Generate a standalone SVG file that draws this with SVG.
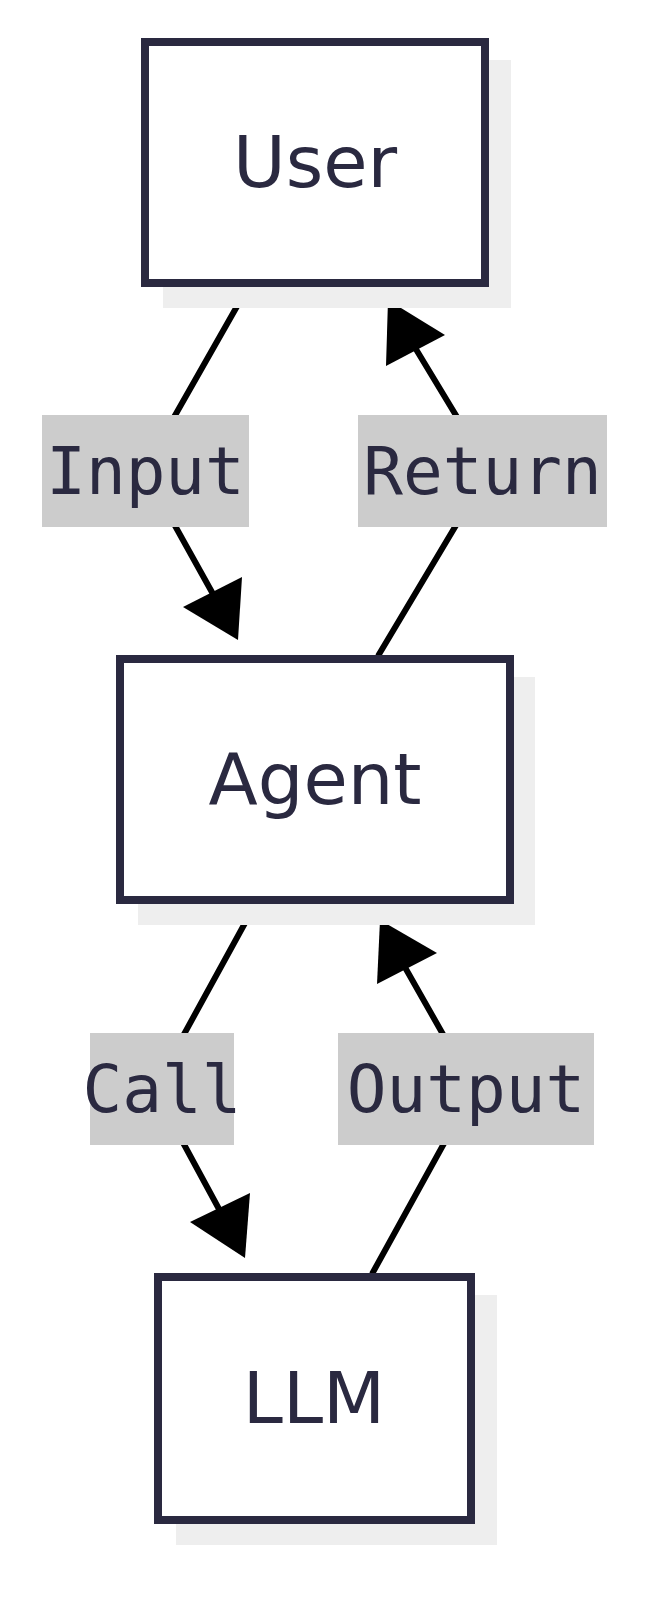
<svg xmlns="http://www.w3.org/2000/svg" width="665" height="1600" viewBox="0 0 665 1600">
<defs>
<style>
.sh{fill:#eeeeee}
.nd{fill:#ffffff;stroke:#2a2940;stroke-width:8}
.nt{font-family:"DejaVu Sans",sans-serif;font-size:72px;fill:#2a2940;text-anchor:middle;dominant-baseline:central}
.cn{fill:none;stroke:#000;stroke-width:6}
.ah{fill:#000}
.lb{fill:#cccccc}
.lt{font-family:"DejaVu Sans Mono",monospace;font-size:66px;fill:#2a2940;text-anchor:middle;dominant-baseline:central}
</style>
</defs>
<g id="connectors">
<path class="cn" d="M248,287 L144,470 L218,603"/>
<polygon class="ah" points="238,640 183,607 242,577"/>
<path class="cn" d="M378,656 L489,470 L408,336"/>
<polygon class="ah" points="388,300 386,366 445,335"/>
<path class="cn" d="M256,903 L154,1089 L226,1222"/>
<polygon class="ah" points="245,1258 190,1222 250,1193"/>
<path class="cn" d="M372,1274 L474,1089 L398,955"/>
<polygon class="ah" points="380,920 377,984 437,953"/>
<g id="label-input"><rect class="lb" x="42" y="415" width="207" height="112"/><text class="lt" x="145.5" y="471">Input</text></g>
<g id="label-return"><rect class="lb" x="358" y="415" width="249" height="112"/><text class="lt" x="482.5" y="471">Return</text></g>
<g id="label-call"><rect class="lb" x="90" y="1033" width="144" height="112"/><text class="lt" x="162" y="1089">Call</text></g>
<g id="label-output"><rect class="lb" x="338" y="1033" width="256" height="112"/><text class="lt" x="466" y="1089">Output</text></g>
</g>
<g id="user"><rect class="sh" x="163" y="60" width="348" height="248"/><rect class="nd" x="145" y="42" width="340" height="241"/><text class="nt" x="315" y="162">User</text></g>
<g id="agent"><rect class="sh" x="138" y="677" width="397" height="248"/><rect class="nd" x="120" y="659" width="390" height="241"/><text class="nt" x="315" y="779">Agent</text></g>
<g id="llm"><rect class="sh" x="176" y="1295" width="321" height="250"/><rect class="nd" x="158" y="1277" width="313" height="243"/><text class="nt" x="314" y="1398">LLM</text></g>
</svg>
